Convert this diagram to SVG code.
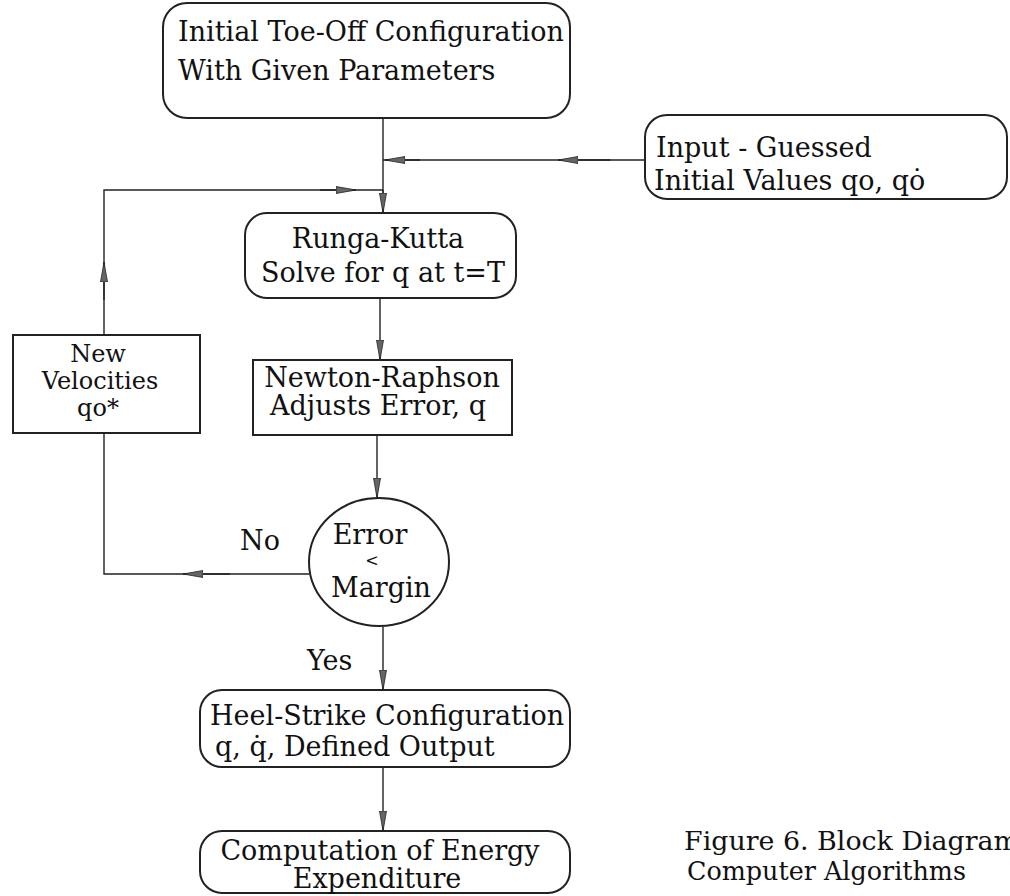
<svg xmlns="http://www.w3.org/2000/svg" width="1010" height="896" viewBox="0 0 1010 896">
<defs>
<marker id="ah" viewBox="0 0 20 8" refX="20" refY="4" markerWidth="20" markerHeight="8" markerUnits="userSpaceOnUse" orient="auto">
<path d="M0,0.5 L20,4 L0,7.5 z" fill="#666" stroke="#222" stroke-width="0.8"/>
</marker>
<style>
.box{fill:#fff;stroke:#222;stroke-width:2}
.ln{fill:none;stroke:#222;stroke-width:1.4}
.ar{fill:none;stroke:#222;stroke-width:1.4;marker-end:url(#ah)}
text{font-family:"DejaVu Serif","Liberation Serif",serif;font-size:27px;fill:#111}
.cap{font-size:26px}
.nv{font-size:24px}
</style>
</defs>
<rect width="1010" height="896" fill="#fff"/>
<g id="connectors">
<path class="ln" d="M383,118 V213"/>
<path class="ar" d="M383,190 V213"/>
<path class="ln" d="M645,160 H383"/>
<path class="ar" d="M420,160 H385"/>
<path class="ar" d="M610,160 H558"/>
<path class="ln" d="M104,335 V190 H383"/>
<path class="ar" d="M320,190 H356"/>
<path class="ar" d="M104,300 V262"/>
<path class="ar" d="M380,298 V360"/>
<path class="ar" d="M377,435 V498"/>
<path class="ln" d="M309,574 H104 V433"/>
<path class="ar" d="M230,574 H183"/>
<path class="ar" d="M383,627 V690"/>
<path class="ar" d="M383,767 V831"/>
</g>
<g id="n-initial">
<rect class="box" x="163" y="3" width="407" height="115" rx="24" ry="24"/>
<text x="178" y="41">Initial Toe-Off Configuration</text>
<text x="178" y="80">With Given Parameters</text>
</g>
<g id="n-input">
<rect class="box" x="645" y="115" width="362" height="84" rx="22" ry="22"/>
<text x="656" y="157">Input - Guessed</text>
<text x="654" y="190">Initial Values qo, qȯ</text>
</g>
<g id="n-runga">
<rect class="box" x="245" y="213" width="271" height="85" rx="22" ry="22"/>
<text x="378" y="248" text-anchor="middle">Runga-Kutta</text>
<text x="383" y="282" text-anchor="middle">Solve for q at t=T</text>
</g>
<g id="n-newton">
<rect class="box" x="253" y="360" width="259" height="75"/>
<text x="382" y="387" text-anchor="middle">Newton-Raphson</text>
<text x="378" y="415" text-anchor="middle">Adjusts Error, q</text>
</g>
<g id="n-error">
<ellipse class="box" cx="379" cy="562" rx="70" ry="64"/>
<text x="370" y="544" text-anchor="middle">Error</text>
<text x="372" y="566" text-anchor="middle" style="font-size:16px">&lt;</text>
<text x="381" y="597" text-anchor="middle">Margin</text>
</g>
<g id="n-newvel">
<rect class="box" x="13" y="335" width="187" height="98"/>
<text class="nv" x="98" y="362" text-anchor="middle">New</text>
<text class="nv" x="100" y="389" text-anchor="middle">Velocities</text>
<text class="nv" x="98" y="416" text-anchor="middle">qo*</text>
</g>
<g id="labels">
<text x="240" y="550">No</text>
<text x="307" y="670">Yes</text>
</g>
<g id="n-heel">
<rect class="box" x="200" y="690" width="370" height="77" rx="22" ry="22"/>
<text x="210" y="725">Heel-Strike Configuration</text>
<text x="215" y="756">q, q̇, Defined Output</text>
</g>
<g id="n-comp">
<rect class="box" x="200" y="831" width="370" height="62" rx="22" ry="22"/>
<text x="380" y="860" text-anchor="middle">Computation of Energy</text>
<text x="377" y="888" text-anchor="middle">Expenditure</text>
</g>
<g id="caption">
<text class="cap" x="684" y="850" textLength="335" lengthAdjust="spacingAndGlyphs">Figure 6. Block Diagram</text>
<text class="cap" x="687" y="880" textLength="279" lengthAdjust="spacingAndGlyphs">Computer Algorithms</text>
</g>
</svg>
